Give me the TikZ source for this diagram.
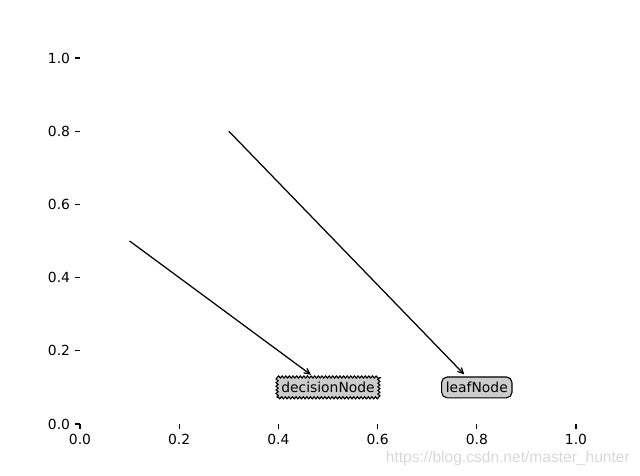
\documentclass[tikz,border=0pt]{standalone}
\usepackage{fontspec}
\setmainfont{DejaVu Sans}
\newfontfamily\wmfont{Liberation Sans}
\usetikzlibrary{decorations.pathmorphing,arrows.meta}
\definecolor{boxfill}{gray}{0.8}
\definecolor{wmgray}{RGB}{216,216,216}
\begin{document}
\begin{tikzpicture}[x=0.72pt,y=-0.72pt,
  font=\fontsize{10pt}{12pt}\selectfont,
  tickline/.style={line width=0.8pt, black},
  ticklab/.style={inner sep=0pt},
  conn/.style={-{Straight Barb[length=4pt,width=4pt]}, line width=0.9pt, shorten >=2pt},
  decbox/.style={draw, fill=boxfill, line width=0.8pt, inner xsep=3pt, minimum height=15pt,
    decorate, decoration={zigzag, segment length=2.6pt, amplitude=0.75pt}},
  leafbox/.style={draw, fill=boxfill, line width=0.8pt, inner xsep=3pt, minimum height=15pt,
    rounded corners=4pt}]
\useasboundingbox (0,0) rectangle (640,476);
% ticks
\foreach \i/\l in {0/0.0,1/0.2,2/0.4,3/0.6,4/0.8,5/1.0}{
  \draw[tickline] ({80+99.2*\i},424) -- ++(0,4.86);
  \node[ticklab, anchor=north] (xl\i) at ({80+99.2*\i},433.7) {\l};
  \draw[tickline] (80,{424-73.2*\i}) -- ++(-4.86,0);
  \node[ticklab, anchor=east] (yl\i) at (70.3,{424-73.2*\i}) {\l};
}
% nodes
\node[decbox] (dn) at (328,387.4) {decisionNode};
\node[leafbox] (ln) at (476.8,387.4) {leafNode};
\coordinate (p1) at (129.6,241);
\coordinate (p2) at (228.8,131.2);
\draw[conn] (p1) -- (dn);
\draw[conn] (p2) -- (ln);
% watermark
\node[anchor=east, inner sep=0pt, text=wmgray, font=\wmfont\fontsize{11.2pt}{13pt}\selectfont] (wm) at (630,458.5) {https://blog.csdn.net/master\_hunter};
\end{tikzpicture}
\end{document}
